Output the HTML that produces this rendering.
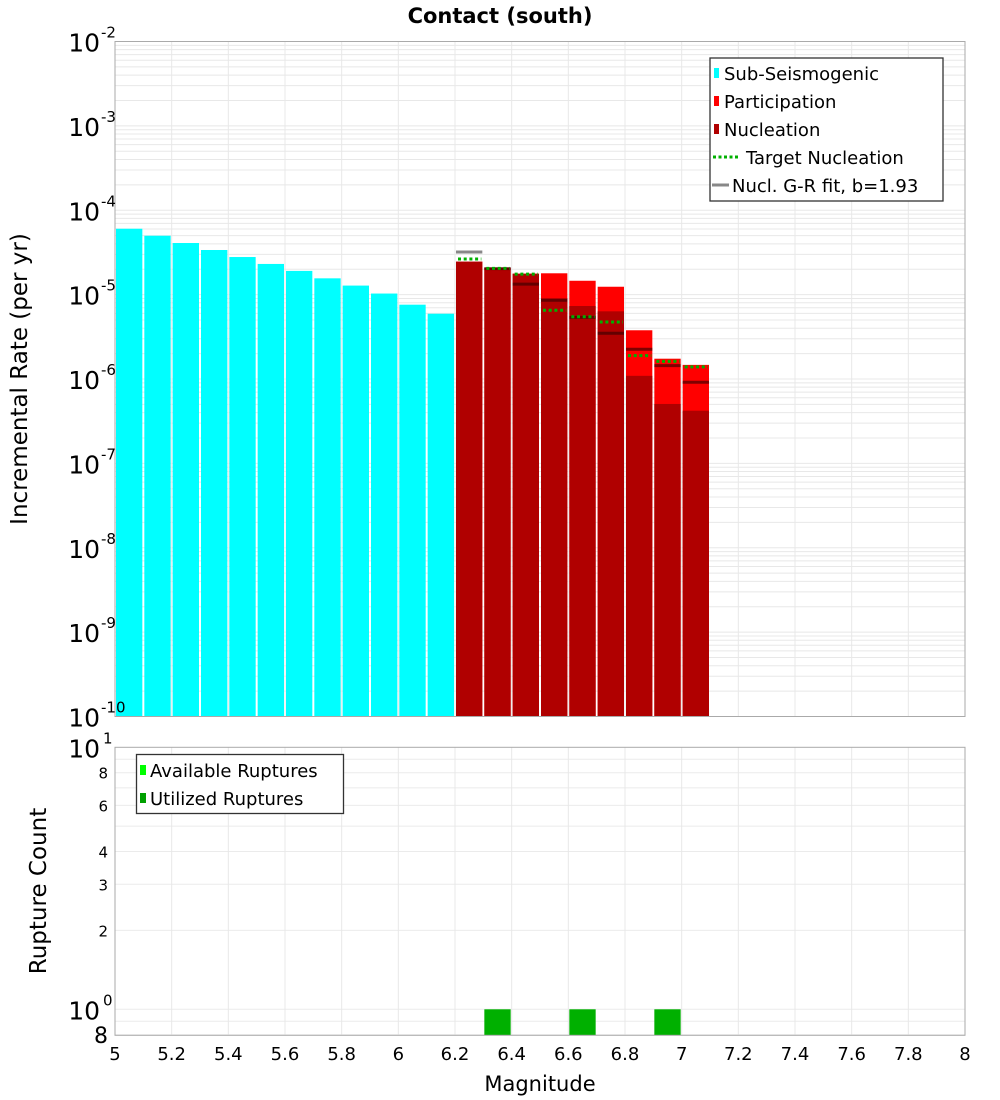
<!DOCTYPE html>
<html><head><meta charset="utf-8"><style>
html,body{margin:0;padding:0;background:#fff}
svg{display:block;font-family:"DejaVu Sans","Liberation Sans",sans-serif}
</style></head><body>
<svg id="chart" width="1000" height="1100" viewBox="0 0 1000 1100" xmlns="http://www.w3.org/2000/svg">
<text x="500" y="23" text-anchor="middle" font-size="21" font-weight="bold">Contact (south)</text>
<text transform="translate(27,379) rotate(-90)" text-anchor="middle" font-size="23">Incremental Rate (per yr)</text>
<text transform="translate(46,891) rotate(-90)" text-anchor="middle" font-size="23">Rupture Count</text>
<text x="540" y="1091" text-anchor="middle" font-size="21">Magnitude</text>
<g id="grid"></g>
<g id="marks"></g>
<g id="axes"></g>
<g>
<rect x="710" y="58" width="233" height="143" fill="#fff" stroke="#333" stroke-width="1.3"/>
<rect x="714" y="68" width="5" height="10" fill="#00ffff"/><text x="724" y="80" font-size="18">Sub-Seismogenic</text>
<rect x="714" y="96" width="5" height="10" fill="#ff0000"/><text x="724" y="108" font-size="18">Participation</text>
<rect x="714" y="124" width="5" height="10" fill="#b00000"/><text x="724" y="136" font-size="18">Nucleation</text>
<line x1="713" y1="157" x2="739" y2="157" stroke="#00b000" stroke-width="3" stroke-dasharray="3,2.5"/><text x="746" y="164" font-size="18">Target Nucleation</text>
<line x1="712" y1="185" x2="729" y2="185" stroke="#888" stroke-width="3"/><text x="732" y="192" font-size="18">Nucl. G-R fit, b=1.93</text>
</g>
<g>
<rect x="136.5" y="754.5" width="207" height="59" fill="#fff" stroke="#333" stroke-width="1.3"/>
<rect x="140" y="765" width="6" height="10" fill="#00ff00"/><text x="150" y="777" font-size="18">Available Ruptures</text>
<rect x="140" y="793" width="6" height="10" fill="#00a000"/><text x="150" y="805" font-size="18">Utilized Ruptures</text>
</g>
</svg>
<script>
// data
const subMags = [5.0,5.1,5.2,5.3,5.4,5.5,5.6,5.7,5.8,5.9,6.0,6.1];
const subRates = [6.04e-5,4.99e-5,4.09e-5,3.38e-5,2.79e-5,2.31e-5,1.91e-5,1.56e-5,1.28e-5,1.03e-5,7.6e-6,5.94e-6];
const supMags = [6.2,6.3,6.4,6.5,6.6,6.7,6.8,6.9,7.0];
const partRates = [2.46e-5,2.08e-5,1.77e-5,1.79e-5,1.46e-5,1.24e-5,3.78e-6,1.74e-6,1.47e-6];
const nuclRates = [2.46e-5,2.08e-5,1.77e-5,9.04e-6,7.33e-6,6.34e-6,1.09e-6,5.06e-7,4.21e-7];
const targetRates = [2.64e-5,2.05e-5,1.75e-5,6.52e-6,5.47e-6,4.74e-6,1.89e-6,1.62e-6,1.39e-6];
const grRates = [3.2e-5,2.03e-5,1.33e-5,8.57e-6,5.38e-6,3.48e-6,2.25e-6,1.44e-6,9.14e-7];
const rupMags = [6.3,6.6,6.9];
const rupCounts = [1,1,1];
const xTicks = [5,5.2,5.4,5.6,5.8,6,6.2,6.4,6.6,6.8,7,7.2,7.4,7.6,7.8,8];
const topExps = [-2,-3,-4,-5,-6,-7,-8,-9,-10];
const botTicks = [2,3,4,6,8];

const NS='http://www.w3.org/2000/svg';
const X0=115,X1=965,T0=41.5,T1=716.5,B0=747.3,B1=1035.3;
const xs=m=>X0+(m-5)/3*(X1-X0);
const yt=v=>T0+(-2-Math.log10(v))*(T1-T0)/8;
const yb=v=>1009.3-Math.log10(v)*262;
function mk(parent,tag,attrs){const e=document.createElementNS(NS,tag);for(const k in attrs)e.setAttribute(k,attrs[k]);parent.appendChild(e);return e;}
const grid=document.getElementById('grid'),marks=document.getElementById('marks'),axes=document.getElementById('axes');

// grid
for(let e=-10;e<-2;e++)for(let k=1;k<10;k++){const y=yt(k*Math.pow(10,e));const g=mk(grid,'line',{x1:X0,x2:X1,y1:y,y2:y,stroke:'#e8e8e8','stroke-width':1});

}
for(let k=8;k<=10;k++){const y=yb(k/10*1);}
[0.8,0.9,1,2,3,4,5,6,7,8,9].forEach(v=>{const y=yb(v);const g=mk(grid,'line',{x1:X0,x2:X1,y1:y,y2:y,stroke:'#ebebeb','stroke-width':1});

});
xTicks.forEach(t=>{[[T0,T1],[B0,B1]].forEach(r=>{const g=mk(grid,'line',{x1:xs(t),x2:xs(t),y1:r[0],y2:r[1],stroke:'#e8e8e8','stroke-width':1});

});});

const bw=(X1-X0)/30;
subMags.forEach((m,i)=>{const y=yt(subRates[i]);const r=mk(marks,'rect',{x:xs(m)+1,y:y,width:bw-2,height:T1-y,fill:'#00ffff'});

});
supMags.forEach((m,i)=>{
 let y=yt(partRates[i]);let r=mk(marks,'rect',{x:xs(m)+1,y:y,width:bw-2,height:T1-y,fill:'#ff0000'});
 
 
 y=yt(nuclRates[i]);r=mk(marks,'rect',{x:xs(m)+1,y:y,width:bw-2,height:T1-y,fill:'#b00000'});
 
 
});
supMags.forEach((m,i)=>{
 let y=yt(grRates[i]);let l=mk(marks,'line',{x1:xs(m)+1,x2:xs(m)+bw-1,y1:y,y2:y,stroke:'rgba(60,0,0,0.65)','stroke-width':3});
 if(i===0)l.setAttribute('stroke','#888');
 
 
 y=yt(targetRates[i]);l=mk(marks,'line',{x1:xs(m)+3,x2:xs(m)+bw-2,y1:y,y2:y,stroke:'#00b000','stroke-width':3,'stroke-dasharray':'3,2.7'});
 
 
});
rupMags.forEach((m,i)=>{const y=yb(rupCounts[i]);const r=mk(marks,'rect',{x:xs(m)+1,y:y,width:bw-2,height:B1-y,fill:'#00b000'});

});

// axes frames
[[T0,T1],[B0,B1]].forEach(r=>{const f=mk(axes,'rect',{x:X0,y:r[0],width:X1-X0,height:r[1]-r[0],fill:'none',stroke:'#aaa','stroke-width':1});

});
xTicks.forEach(t=>{const tx=mk(axes,'text',{x:xs(t),y:1060,'text-anchor':'middle','font-size':18});tx.textContent=String(t);

});
topExps.forEach(e=>{const y=yt(Math.pow(10,e));const tx=mk(axes,'text',{x:100,y:y+10,'text-anchor':'end','font-size':25});tx.textContent='10';


const s=mk(axes,'text',{x:101,y:y-4,'font-size':15});s.textContent=String(e);

});
[[1,'1'],[0,'0']].forEach(p=>{const y=yb(Math.pow(10,p[0]));const tx=mk(axes,'text',{x:100,y:y+10,'text-anchor':'end','font-size':25});tx.textContent='10';


const s=mk(axes,'text',{x:103,y:y-4,'font-size':15});s.textContent=p[1];

});
botTicks.forEach(v=>{const tx=mk(axes,'text',{x:108,y:yb(v)+6,'text-anchor':'end','font-size':15});tx.textContent=String(v);

});
const b8=mk(axes,'text',{x:108,y:1043,'text-anchor':'end','font-size':22});b8.textContent='8';


</script>
</body></html>
